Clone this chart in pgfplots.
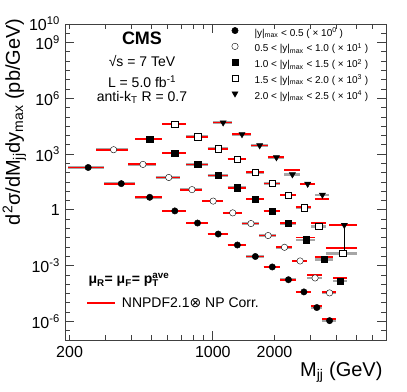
\documentclass[border=0pt]{standalone}
\usepackage{fontspec}
\setmainfont{Liberation Sans}
\newfontfamily\dejavu{DejaVu Sans}
\usepackage{pgfplots}
\usepackage{pgfplotstable}
\pgfplotsset{compat=1.18}

% bin edges with theory (t) and data (g) values, one segment per bin
\pgfplotstableread{
x     t        g
197   191      191
296   191      191
nan   nan      nan
296   25.8     25.8
419   25.8     25.8
nan   nan      nan
419   4.75     4.75
565   4.75     4.75
nan   nan      nan
565   0.88     0.88
740   0.88     0.88
nan   nan      nan
740   0.196    0.196
944   0.196    0.196
nan   nan      nan
944   0.0502   0.0502
1181  0.0502   0.0502
nan   nan      nan
1181  0.0129   0.0129
1455  0.0129   0.0129
nan   nan      nan
1455  3.11e-3  3.11e-3
1770  3.11e-3  3.11e-3
nan   nan      nan
1770  8.5e-4   8.5e-4
2132  8.5e-4   8.5e-4
nan   nan      nan
2132  1.75e-4  1.75e-4
2546  1.75e-4  1.75e-4
nan   nan      nan
2546  4.0e-5   3.87e-5
3019  4.0e-5   3.87e-5
nan   nan      nan
3019  6.6e-6   5.56e-6
3416  6.6e-6   5.56e-6
nan   nan      nan
3416  1.3e-6   1.10e-6
4010  1.3e-6   1.10e-6
}\binsA
\pgfplotstableread{
x     t        g
270   1726     1726
386   1726     1726
nan   nan      nan
386   280      280
526   280      280
nan   nan      nan
526   55.5     55.5
693   55.5     55.5
nan   nan      nan
693   12.3     12.3
890   12.3     12.3
nan   nan      nan
890   2.97     2.97
1118  2.97     2.97
nan   nan      nan
1118  0.69     0.69
1383  0.69     0.69
nan   nan      nan
1383  0.184    0.184
1687  0.184    0.184
nan   nan      nan
1687  0.0417   0.0417
2037  0.0417   0.0417
nan   nan      nan
2037  9.7e-3   9.7e-3
2438  9.7e-3   9.7e-3
nan   nan      nan
2438  1.79e-3  1.79e-3
2895  1.79e-3  1.79e-3
nan   nan      nan
2895  3.16e-4  2.18e-4
3416  3.16e-4  2.18e-4
nan   nan      nan
3416  4.0e-5   3.42e-5
4010  4.0e-5   3.42e-5
}\binsB
\pgfplotstableread{
x     t        g
419   6471     6471
565   6471     6471
nan   nan      nan
565   1161     1161
740   1161     1161
nan   nan      nan
740   277      277
944   277      277
nan   nan      nan
944   71.1     71.1
1181  71.1     71.1
nan   nan      nan
1181  15.7     15.7
1455  15.7     15.7
nan   nan      nan
1455  3.80     3.80
1770  3.80     3.80
nan   nan      nan
1770  0.862    0.862
2132  0.862    0.862
nan   nan      nan
2132  0.188    0.188
2546  0.188    0.188
nan   nan      nan
2546  0.0326   0.0245
3147  0.0326   0.0245
nan   nan      nan
3147  3.0e-3   2.15e-3
3854  3.0e-3   2.15e-3
nan   nan      nan
3854  2.24e-4  1.51e-4
4509  2.24e-4  1.51e-4
}\binsC
\pgfplotstableread{
x     t        g
565   41300    41300
740   41300    41300
nan   nan      nan
740   8600     8600
944   8600     8600
nan   nan      nan
944   1952     1952
1181  1952     1952
nan   nan      nan
1181  533      533
1455  533      533
nan   nan      nan
1455  104      104
1770  104      104
nan   nan      nan
1770  26.4     26.4
2132  26.4     26.4
nan   nan      nan
2132  6.38     6.38
2546  6.38     6.38
nan   nan      nan
2546  1.40     1.30
3019  1.40     1.30
nan   nan      nan
3019  0.200    0.130
3558  0.200    0.130
nan   nan      nan
3558  8.7e-3   4.51e-3
5058  8.7e-3   4.51e-3
}\binsD
\pgfplotstableread{
x     t        g
1000  49700    49700
1246  49700    49700
nan   nan      nan
1246  11700    11700
1530  11700    11700
nan   nan      nan
1530  2935     2935
1856  2935     2935
nan   nan      nan
1856  666      666
2231  666      666
nan   nan      nan
2231  146      80.5
2659  146      80.5
nan   nan      nan
2659  24.9     24.9
3147  24.9     24.9
nan   nan      nan
3147  3.71     6.47
3704  3.71     6.47
nan   nan      nan
3704  0.15     0.153
5058  0.15     0.153
}\binsE

% vertical data uncertainties (low end, high end of each visible bar)
\pgfplotstableread{
x       y
1951    8.1e-4
1951    8.9e-4
nan     nan
2339    1.65e-4
2339    1.85e-4
nan     nan
2782.5  3.57e-5
2782.5  4.17e-5
nan     nan
3217.5  4.76e-6
3217.5  6.36e-6
nan     nan
3713    0.75e-6
3713    1.40e-6
nan     nan
2666.5  1.69e-3
2666.5  1.89e-3
nan     nan
3155.5  1.98e-4
3155.5  2.38e-4
nan     nan
3713    2.82e-5
3713    4.02e-5
nan     nan
2846.5  0.0235
2846.5  0.0255
nan     nan
3500.5  1.90e-3
3500.5  2.40e-3
nan     nan
4181.5  0.93e-4
4181.5  1.91e-4
nan     nan
2782.5  1.2
2782.5  1.4
nan     nan
3288.5  0.11
3288.5  0.15
nan     nan
4308    3.31e-3
4308    6.01e-3
nan     nan
2445    70.5
2445    92.5
nan     nan
2903    21.9
2903    27.9
nan     nan
3425.5  4.87
3425.5  7.67
nan     nan
4381    0.006
4381    0.173
}\errs

% data points: bin centre, value
\pgfplotstableread{
x      d
246.5  191
357.5  25.8
492    4.75
652.5  0.88
842    0.196
1062.5 0.0502
1318   0.0129
1612.5 3.11e-3
1951   8.5e-4
2339   1.75e-4
2782.5 3.87e-5
3217.5 5.56e-6
3713   1.10e-6
}\ptsA
\pgfplotstableread{
x      d
328    1726
456    280
609.5  55.5
791.5  12.3
1004   2.97
1250.5 0.69
1535   0.184
1862   0.0417
2237.5 9.7e-3
2666.5 1.79e-3
3155.5 2.18e-4
3713   3.42e-5
}\ptsB
\pgfplotstableread{
x      d
492    6471
652.5  1161
842    277
1062.5 71.1
1318   15.7
1612.5 3.80
1951   0.862
2339   0.188
2846.5 0.0245
3500.5 2.15e-3
4181.5 1.51e-4
}\ptsC
\pgfplotstableread{
x      d
652.5  41300
842    8600
1062.5 1952
1318   533
1612.5 104
1951   26.4
2339   6.38
2782.5 1.30
3288.5 0.130
4308   4.51e-3
}\ptsD
\pgfplotstableread{
x      d
1123   49700
1388   11700
1693   2935
2043.5 666
2445   80.5
2903   24.9
3425.5 6.47
4381   0.153
}\ptsE

\pgfplotsset{
  gbar/.style={forget plot, black!35, line width=2.6pt, unbounded coords=jump},
  rbar/.style={forget plot, red, line width=1.8pt, unbounded coords=jump},
  pts/.style={only marks, black, mark size=3.2pt},
}

\begin{document}
\begin{tikzpicture}
\useasboundingbox (0,0) rectangle (407pt,391pt);
\begin{axis}[
  scale only axis, width=321pt, height=316pt,
  at={(65pt,51pt)}, anchor=south west,
  xmode=log, ymode=log,
  xmin=190, xmax=7000, ymin=1e-7, ymax=1e10,
  axis line style={black!75, line width=0.8pt},
  tick style={black!75, line width=0.8pt},
  tick align=inside,
  major tick length=9pt, minor tick length=5pt,
  xtick={1000}, xticklabels={1000},
  extra x ticks={200,2000}, extra x tick labels={200,2000},
  extra x tick style={major tick length=5pt},
  minor xtick={300,400,500,600,700,800,900,3000,4000,5000,6000,7000},
  ytick={1e-6,1e-3,1,1e3,1e6,1e9},
  yticklabels={10\textsuperscript{-6},10\textsuperscript{-3},1,10\textsuperscript{3},10\textsuperscript{6},10\textsuperscript{9}},
  extra y ticks={1e10}, extra y tick labels={10\textsuperscript{10}},
  minor ytick={3.16e-7,3.16e-6,1e-5,3.16e-5,1e-4,3.16e-4,3.16e-3,1e-2,3.16e-2,1e-1,3.16e-1,3.16,10,31.6,100,316,3160,1e4,31600,1e5,316000,3.16e6,1e7,3.16e7,1e8,3.16e8,3.16e9},
  xticklabel style={font=\fontsize{16}{19}\selectfont, anchor=base, yshift=-17pt},
  yticklabel style={font=\fontsize{16}{19}\selectfont, anchor=east, inner sep=0pt, xshift=-5pt},
  legend style={at={(axis description cs:0.519,0.99)}, anchor=north west,
    draw=none, fill=none, inner sep=0pt, row sep=3.6pt,
    font=\fontsize{10}{12}\selectfont,
    nodes={inner sep=0pt, text height=8.5pt, text depth=3.5pt}},
  legend cell align=left,
  legend image code/.code={\draw[#1] plot coordinates {(5pt,3pt)};
    \node[inner sep=0pt, minimum size=0pt, text height=0pt, text depth=0pt] at (24.3pt,0pt) {};},
]
\addplot[gbar] table[x=x, y=g] {\binsA};
\addplot[gbar] table[x=x, y=g] {\binsB};
\addplot[gbar] table[x=x, y=g] {\binsC};
\addplot[gbar] table[x=x, y=g] {\binsD};
\addplot[gbar] table[x=x, y=g] {\binsE};
\addplot[rbar] table[x=x, y=t] {\binsA};
\addplot[rbar] table[x=x, y=t] {\binsB};
\addplot[rbar] table[x=x, y=t] {\binsC};
\addplot[rbar] table[x=x, y=t] {\binsD};
\addplot[rbar] table[x=x, y=t] {\binsE};
\addplot[forget plot, black, line width=0.7pt, unbounded coords=jump] table[x=x, y=y] {\errs};

\addplot[pts, mark=*] table[x=x, y=d] {\ptsA};
\addlegendentry{|y|\textsubscript{max} < 0.5 ( × 10\textsuperscript{0} )}
\addplot[pts, mark=*, mark options={fill=white}] table[x=x, y=d] {\ptsB};
\addlegendentry{0.5 < |y|\textsubscript{max} < 1.0 ( × 10\textsuperscript{1} )}
\addplot[pts, mark=square*] table[x=x, y=d] {\ptsC};
\addlegendentry{1.0 < |y|\textsubscript{max} < 1.5 ( × 10\textsuperscript{2} )}
\addplot[pts, mark=square*, mark options={fill=white}] table[x=x, y=d] {\ptsD};
\addlegendentry{1.5 < |y|\textsubscript{max} < 2.0 ( × 10\textsuperscript{3} )}
\addplot[pts, mark=triangle*, mark size=3.6pt, mark options={rotate=180}] table[x=x, y=d] {\ptsE};
\addlegendentry{2.0 < |y|\textsubscript{max} < 2.5 ( × 10\textsuperscript{4} )}
\end{axis}

\draw[red, line width=1.8pt] (87pt,88.3pt) -- (115pt,88.3pt);
\node[font=\fontsize{14}{16}\selectfont, anchor=base west, inner sep=0pt] at (121.7pt,83pt)
  {NNPDF2.1{\dejavu ⊗} NP Corr.};
\node[font=\bfseries\fontsize{18}{21}\selectfont, anchor=base] at (142pt,346pt) {CMS};
\node[font=\fontsize{14}{16}\selectfont, anchor=base] at (142pt,324.3pt) {√s = 7 TeV};
\node[font=\fontsize{14}{16}\selectfont, anchor=base] at (142pt,303.7pt) {L = 5.0 fb\textsuperscript{-1}};
\node[font=\fontsize{14}{16}\selectfont, anchor=base] at (142pt,289.3pt) {anti-k\textsubscript{T} R = 0.7};
\node[font=\bfseries\fontsize{14}{16}\selectfont, anchor=base west] at (85pt,107pt)
  {μ\textsubscript{R}= μ\textsubscript{F}= p\rlap{\textsubscript{T}}\textsuperscript{ave}};
\node[rotate=90, anchor=base east, font=\fontsize{20}{24}\selectfont] at (20pt,376pt)
  {d\textsuperscript{2}σ/dM\textsubscript{jj}dy\textsubscript{max} (pb/GeV)};
\node[anchor=base east, font=\fontsize{20}{24}\selectfont] at (386pt,15pt)
  {M\textsubscript{jj} (GeV)};
\end{tikzpicture}
\end{document}
